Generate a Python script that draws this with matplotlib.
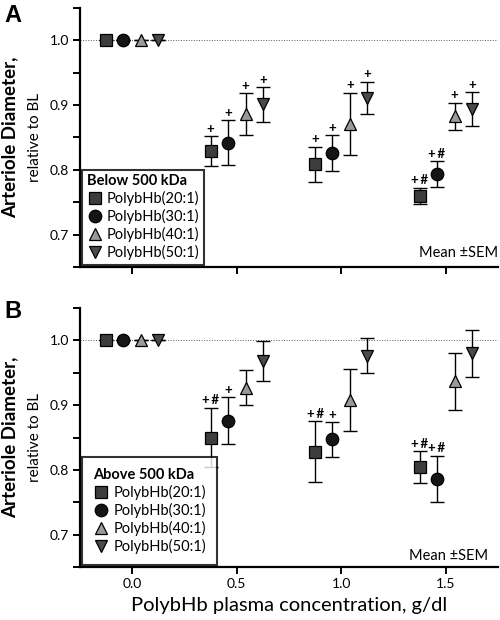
import matplotlib
matplotlib.use('Agg')
import matplotlib.pyplot as plt
from matplotlib.ticker import MultipleLocator
from matplotlib.lines import Line2D

plt.rcParams['font.family'] = ['Lato', 'DejaVu Sans']

# concentration groups and per-series horizontal offsets
conc = [0.0, 0.5, 1.0, 1.5]
series = ['PolybHb(20:1)', 'PolybHb(30:1)', 'PolybHb(40:1)', 'PolybHb(50:1)']
offsets = [-0.125, -0.042, 0.042, 0.125]
markers = ['s', 'o', '^', 'v']
msizes = [8.5, 9, 9, 9]
fills = ['#3d3d3d', '#151515', '#9a9a9a', '#4a4a4a']

# Panel A: below 500 kDa
a_mean = [[1.0, 0.829, 0.809, 0.760],
          [1.0, 0.842, 0.826, 0.793],
          [1.0, 0.886, 0.871, 0.883],
          [1.0, 0.901, 0.911, 0.894]]
a_sem = [[0, 0.023, 0.027, 0.0125],
         [0, 0.035, 0.028, 0.020],
         [0, 0.032, 0.048, 0.021],
         [0, 0.027, 0.025, 0.026]]
a_sig = [['', '+', '+', '+\u2009#'],
         ['', '+', '+', '+\u2009#'],
         ['', '+', '+', '+'],
         ['', '+', '+', '+']]

# Panel B: above 500 kDa
b_mean = [[1.0, 0.850, 0.828, 0.804],
          [1.0, 0.876, 0.847, 0.786],
          [1.0, 0.927, 0.908, 0.937],
          [1.0, 0.968, 0.976, 0.980]]
b_sem = [[0, 0.046, 0.047, 0.0245],
         [0, 0.036, 0.027, 0.036],
         [0, 0.027, 0.048, 0.044],
         [0, 0.031, 0.027, 0.036]]
b_sig = [['', '+\u2009#', '+\u2009#', '+\u2009#'],
         ['', '+', '+', '+\u2009#'],
         ['', '', '', ''],
         ['', '', '', '']]

fig = plt.figure(figsize=(5, 6.2), dpi=100)
axA = fig.add_axes([0.16, 0.5694, 0.836, 0.4177])
axB = fig.add_axes([0.16, 0.0855, 0.836, 0.4177])


def draw_panel(ax, means, sems, sigs, title, mean_xy, bpad):
    ax.axhline(1.0, ls=':', lw=0.7, color='0.35', zorder=1)
    for i in range(4):
        xs = [c + offsets[i] for c in conc]
        ax.errorbar(xs, means[i], yerr=sems[i], fmt='none', ecolor='black',
                    elinewidth=1.0, capsize=4.7, capthick=1.0, zorder=2)
        ax.plot(xs, means[i], ls='none', marker=markers[i], ms=msizes[i],
                mfc=fills[i], mec='black', mew=0.9, zorder=3)
        for x, m, s, t in zip(xs, means[i], sems[i], sigs[i]):
            if t:
                ax.annotate(t, (x, m + s), xytext=(0, 1.0), textcoords='offset points',
                            ha='center', va='bottom', fontsize=9.5, fontweight='bold')
    handles = [Line2D([], [], ls='none', marker=markers[i], ms=msizes[i],
                      mfc=fills[i], mec='black', mew=0.9) for i in range(4)]
    leg = ax.legend(handles, series, title=title, loc='lower left',
                    bbox_to_anchor=(0, 0), borderaxespad=0.15, fontsize=10.5,
                    title_fontproperties={'weight': 'bold', 'size': 10.5},
                    frameon=True, fancybox=False, handletextpad=0.3,
                    handlelength=1.1, labelspacing=0.2, borderpad=bpad)
    leg._legend_box.align = 'left'
    leg.get_frame().set_edgecolor('black')
    leg.get_frame().set_linewidth(1.5)
    ax.text(mean_xy[0], mean_xy[1], 'Mean \u00b1SEM', transform=ax.transAxes,
            ha='right', va='center', fontsize=10.5)

    ax.set_xlim(-0.25, 1.75)
    ax.set_ylim(0.65, 1.05)
    ax.set_xticks(conc)
    ax.set_yticks([0.7, 0.8, 0.9, 1.0])
    ax.yaxis.set_minor_locator(MultipleLocator(0.05))
    ax.set_yticklabels(['0.7', '0.8', '0.9', '1.0'])
    for side in ['top', 'right']:
        ax.spines[side].set_visible(False)
    for side in ['left', 'bottom']:
        ax.spines[side].set_linewidth(1.6)
    ax.tick_params(axis='both', which='major', length=5, width=1.4, labelsize=10, pad=3)
    ax.tick_params(axis='y', which='minor', length=5, width=1.4)


draw_panel(axA, a_mean, a_sem, a_sig, 'Below 500 kDa', (1.0, 0.054), 0.3)
draw_panel(axB, b_mean, b_sem, b_sig, 'Above 500 kDa', (0.976, 0.042), 0.75)
axA.set_xticklabels([])
axB.set_xticklabels(['0.0', '0.5', '1.0', '1.5'])
axB.set_xlabel('PolybHb plasma concentration, g/dl', fontsize=14.5, labelpad=5)

for ax in [axA, axB]:
    pos = ax.get_position()
    cy = (pos.y0 + pos.y1) / 2
    fig.text(0.019, cy, 'Arteriole Diameter,', rotation=90, ha='center', va='center',
             fontsize=13.5, fontweight='bold')
    fig.text(0.07, cy, 'relative to BL', rotation=90, ha='center', va='center',
             fontsize=11)

fig.text(0.008, 0.993, 'A', ha='left', va='top', fontsize=17, fontweight='bold',
         family='Liberation Sans')
fig.text(0.008, 0.516, 'B', ha='left', va='top', fontsize=17, fontweight='bold',
         family='Liberation Sans')

fig.savefig('out.png', dpi=100)
